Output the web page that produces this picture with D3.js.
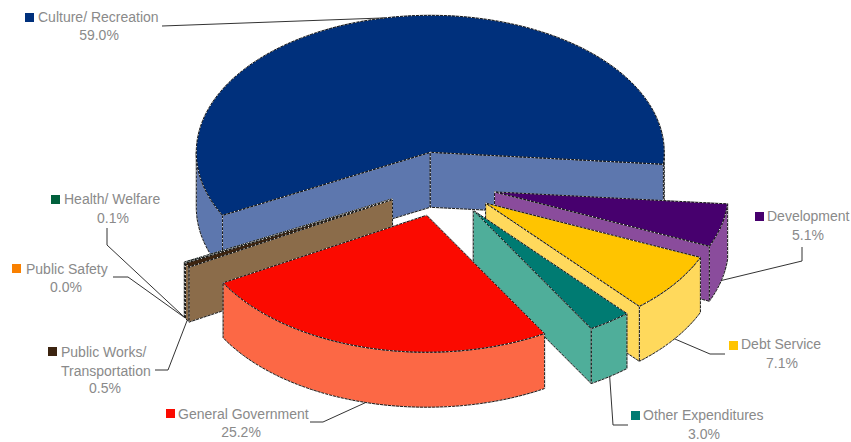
<!DOCTYPE html>
<html>
<head>
<meta charset="utf-8">
<style>
html,body{margin:0;padding:0;background:#fff;}
svg{display:block;}
text{font-family:"Liberation Sans",Arial,sans-serif;font-size:14px;fill:#8a8a8a;}
</style>
<script src="https://cdn.jsdelivr.net/npm/d3@7/dist/d3.min.js"></script>
</head>
<body>
<div id="chart"></div>
<script>
// Budget shares, listed clockwise around the pie.
const categories = ["Culture/ Recreation","Development","Debt Service","Other Expenditures","General Government","Public Works/ Transportation","Public Safety","Health/ Welfare"];
const shares = [59.0,5.1,7.1,3.0,25.2,0.5,0.0,0.1];
const topColors = ["#00307c","#47006e","#ffc400","#007b72","#fb0a00","#3c2410","#f98000","#00603c"];
const wallColors = ["#5d77ae","#8a4c9c","#ffd95c","#4fae9a","#fc6845","#8b6c4a","#fbb060","#4f9a78"];

// Text placement for each callout: swatch corner, label lines, and the bend(s) of its leader.
const callouts = [
  {swatch:[25,13],lines:[[38,22,"start","Culture/ Recreation"],[99,40,"middle","59.0%"]],bends:[[162,26]]},
  {swatch:[755,212],lines:[[767,221,"start","Development"],[808,240,"middle","5.1%"]],bends:[[802,247],[802,261]]},
  {swatch:[729,341],lines:[[741,349,"start","Debt Service"],[782,368,"middle","7.1%"]],bends:[[725,354],[710,354]]},
  {swatch:[631,411],lines:[[643,420,"start","Other Expenditures"],[704,439,"middle","3.0%"]],bends:[[628,425],[613,425]]},
  {swatch:[166,409],lines:[[178,419,"start","General Government"],[241,437,"middle","25.2%"]],bends:[[310,422],[323,422]]},
  {swatch:[48,347],lines:[[61,357,"start","Public Works/"],[61,376,"start","Transportation"],[105,393,"middle","0.5%"]],bends:[[155,370],[168,370]]},
  {swatch:[12,264],lines:[[26,274,"start","Public Safety"],[66,292,"middle","0.0%"]],bends:[[113,277],[128,277]]},
  {swatch:[51,195],lines:[[64,204,"start","Health/ Welfare"],[113,223,"middle","0.1%"]],bends:[[107,228],[107,245]]}
];

const width = 851, height = 442;
const deg = Math.PI / 180;
const depth = 55, explode = 0.236;

// The tilted disc: unit-circle coordinates mapped onto an ellipse on the page.
const px = d3.scaleLinear().domain([-1,1]).range([441-234,441+234]);
const py = d3.scaleLinear().domain([-1,1]).range([184-137,184+137]);

const pie = d3.pie().sort(null).value(d => d)
  .startAngle(242.6*deg).endAngle(242.6*deg + 2*Math.PI);
const arcs = pie(shares).map((a,i) => ({...a, index:i, mid:(a.startAngle+a.endAngle)/2}));

// Position of an angle on a slice, r from its pulled-out apex, z pixels below the top face.
function point(slice, angle, r, z){
  const u = explode*Math.sin(slice.mid) + r*Math.sin(angle);
  const v = -explode*Math.cos(slice.mid) - r*Math.cos(angle);
  return [px(u), py(v) + z];
}
function rimSamples(slice, a0, a1, z){
  const n = Math.max(1, Math.ceil((a1-a0)/(1*deg)));
  return d3.range(n+1).map(i => point(slice, a0+(a1-a0)*i/n, 1, z));
}
const line = d3.line();

const svg = d3.select("#chart").append("svg").attr("width",width).attr("height",height);

// Outlines are dark with a fine light dotting on top.
function face(points, fill){
  const d = line(points) + "Z";
  svg.append("path").attr("d",d).attr("fill",fill).attr("stroke","#1a1a1a").attr("stroke-width",1).attr("stroke-linejoin","round");
  svg.append("path").attr("d",d).attr("fill","none").attr("stroke","#fff").attr("stroke-width",1).attr("stroke-dasharray","1 3");
}

// Back slices first so nearer ones cover them.
const paintOrder = arcs.slice().sort((a,b) => point(a,a.mid,0,0)[1] - point(b,b.mid,0,0)[1]);

paintOrder.forEach(s => {
  if (s.value === 0) return;
  const top = topColors[s.index], wall = wallColors[s.index];
  const a0 = s.startAngle, a1 = s.endAngle;

  // Outer wall, only where the rim faces the viewer.
  [[90*deg,270*deg],[450*deg,630*deg]].forEach(([lo,hi]) => {
    const from = Math.max(a0,lo), to = Math.min(a1,hi);
    if (to > from) {
      face(rimSamples(s,from,to,0).concat(rimSamples(s,from,to,depth).reverse()), wall);
    }
  });

  // Cut faces along the two radii, when turned toward the viewer.
  const cut = a => face([point(s,a,0,0),point(s,a,1,0),point(s,a,1,depth),point(s,a,0,depth)], wall);
  if (Math.sin(a0) < 0) cut(a0);
  if (Math.sin(a1) > 0) cut(a1);

  // Top face.
  face([point(s,a0,0,0)].concat(rimSamples(s,a0,a1,0)), top);
});

// Leaders run from the label bends to the slice's rim at its middle angle.
callouts.forEach((c,i) => {
  const s = arcs[i];
  const lowerEdge = i === 0 ? 0 : depth;
  const pts = c.bends.concat([point(s,s.mid,1,lowerEdge)]);
  svg.append("path").attr("d",line(pts)).attr("fill","none")
    .attr("stroke","#333").attr("stroke-width",1);
  svg.append("rect").attr("x",c.swatch[0]).attr("y",c.swatch[1]).attr("width",9).attr("height",9)
    .attr("fill",topColors[i]);
  c.lines.forEach(([x,y,anchor,str]) => {
    svg.append("text").attr("x",x).attr("y",y).attr("text-anchor",anchor).text(str);
  });
});
</script>
</body>
</html>
